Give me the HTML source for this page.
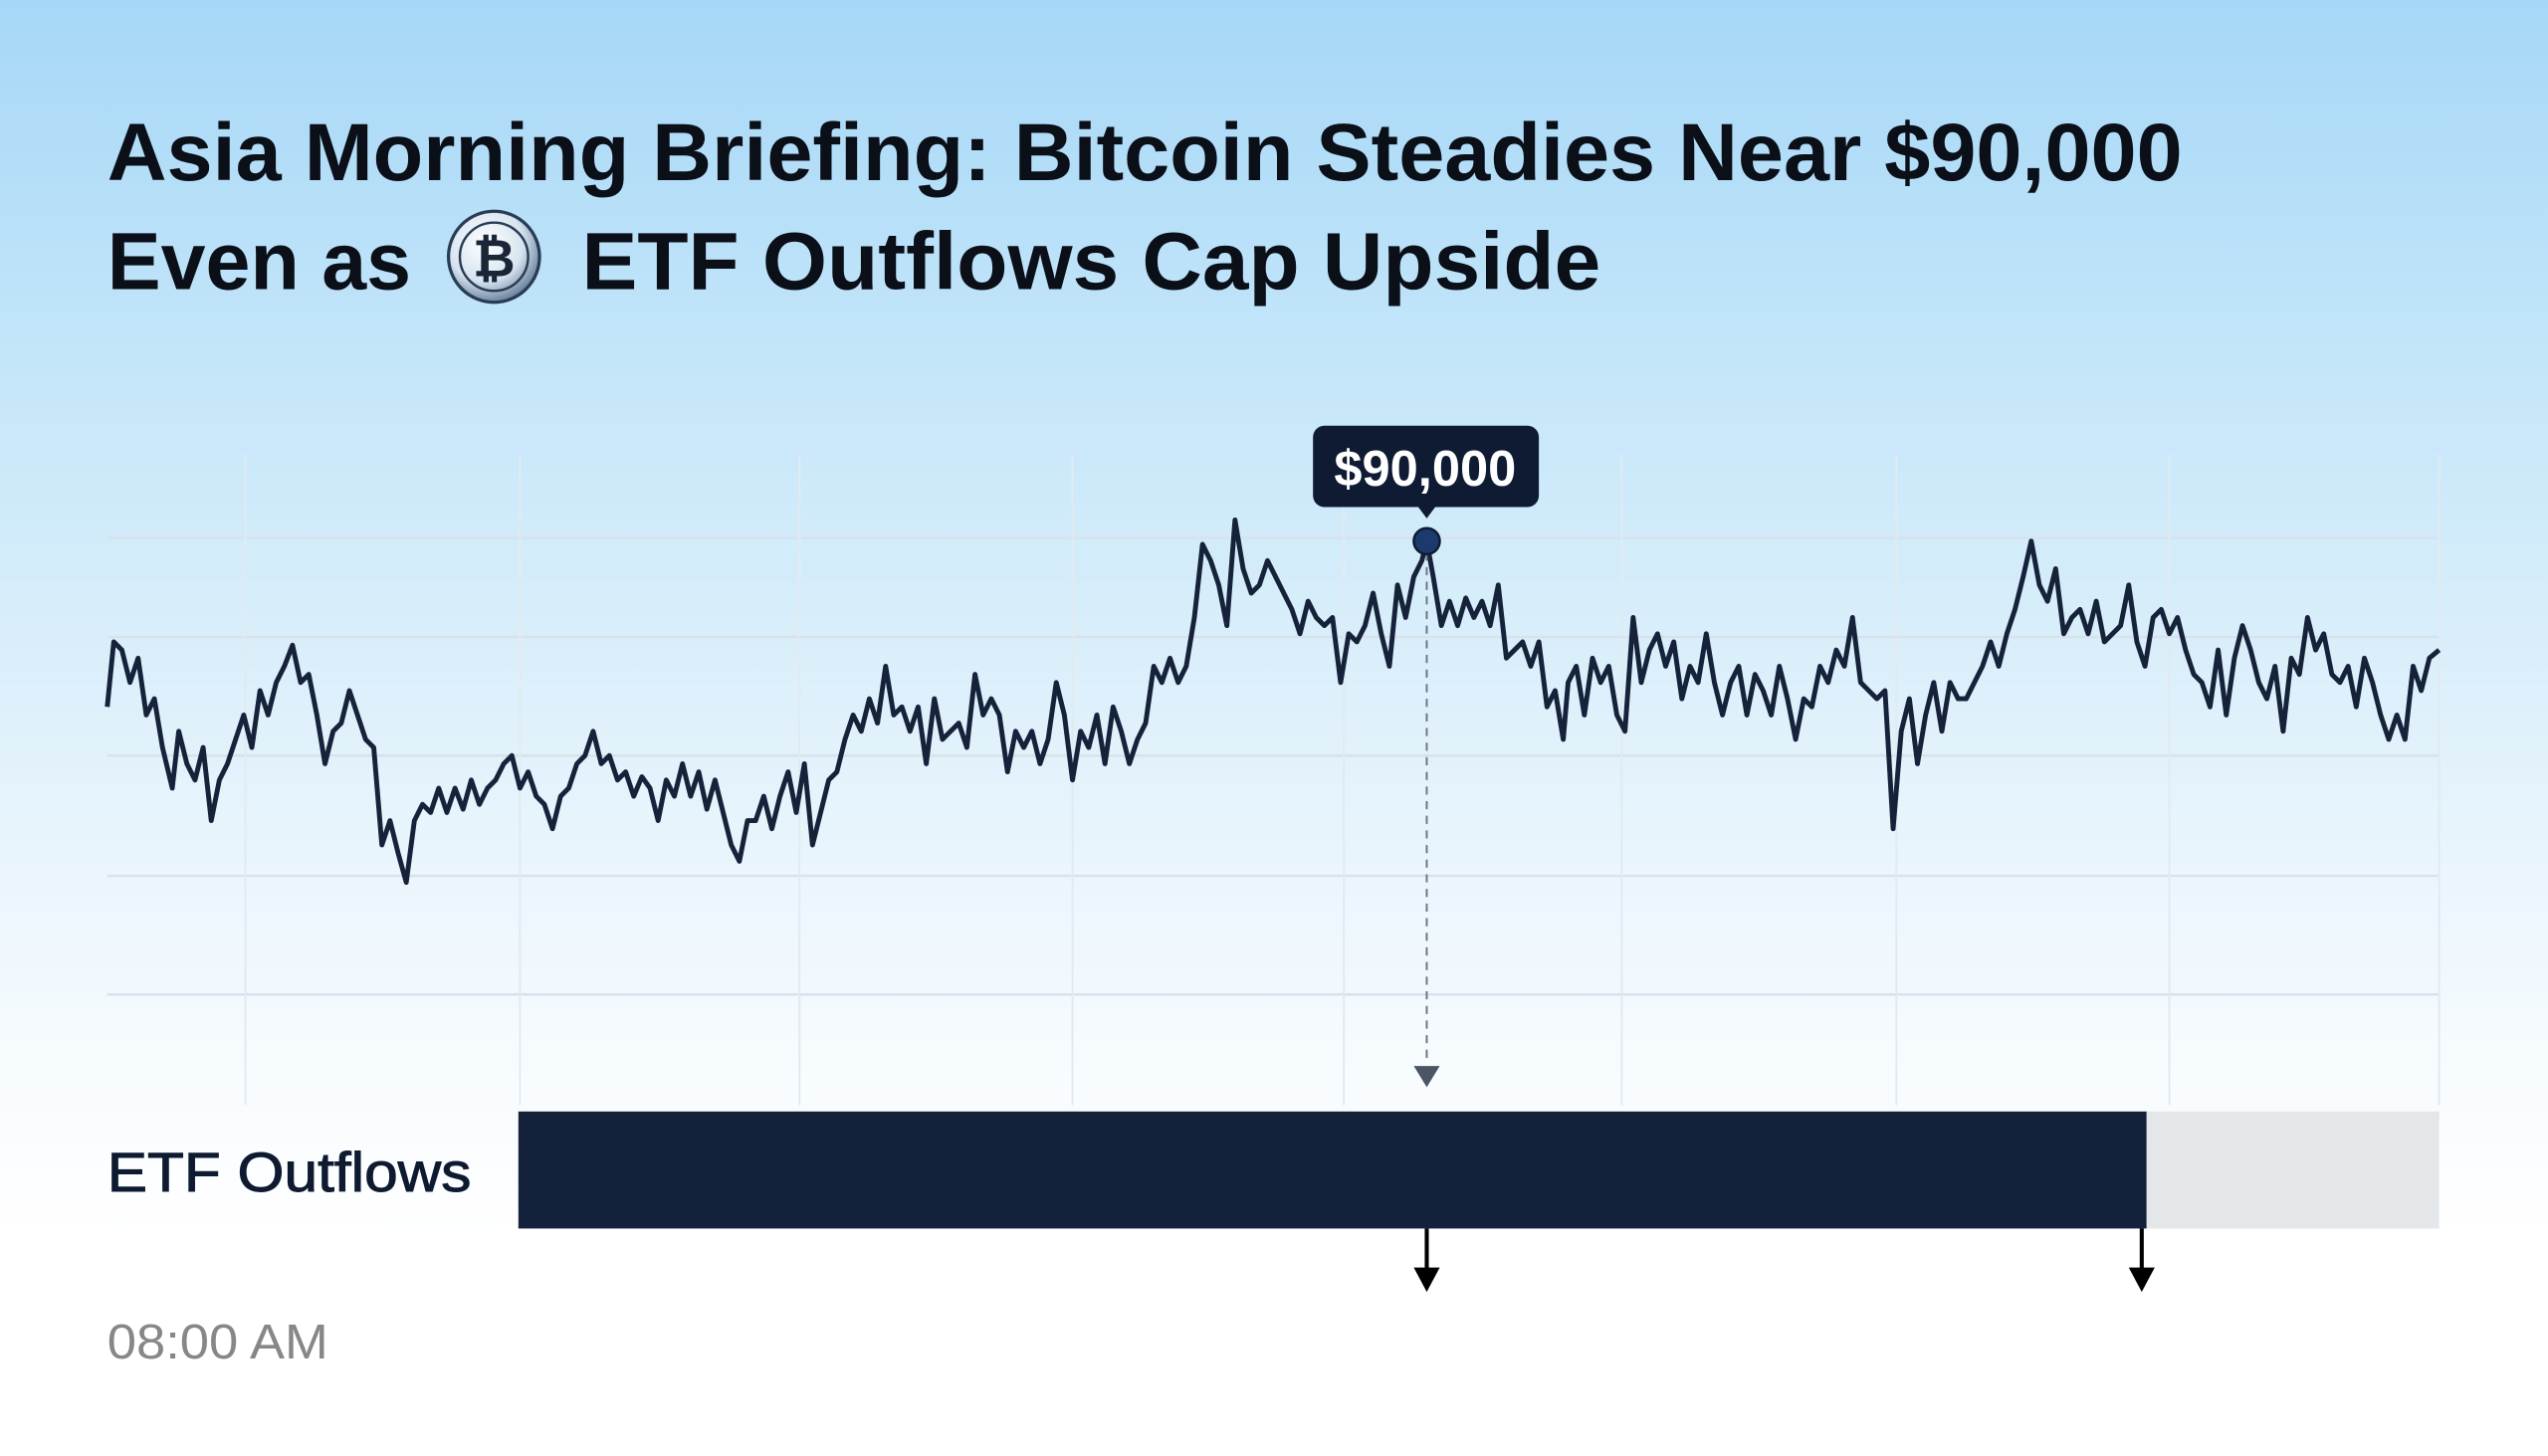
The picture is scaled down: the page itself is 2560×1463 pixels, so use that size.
<!DOCTYPE html>
<html><head><meta charset="utf-8"><style>
html,body{margin:0;padding:0;width:2560px;height:1463px;overflow:hidden;background:#fff}
svg{display:block}
</style></head><body>
<svg width="2560" height="1463" viewBox="0 0 1568 896" preserveAspectRatio="none" xmlns="http://www.w3.org/2000/svg">
<defs>
<linearGradient id="bg" x1="0" y1="0" x2="0" y2="1">
<stop offset="0" stop-color="#a6d7f8"/>
<stop offset="0.25" stop-color="#c4e6f9"/>
<stop offset="0.5" stop-color="#e0f1fb"/>
<stop offset="0.72" stop-color="#f6fbfe"/>
<stop offset="0.85" stop-color="#ffffff"/>
</linearGradient>
<radialGradient id="coin" cx="0.4" cy="0.35" r="0.7">
<stop offset="0" stop-color="#ffffff"/>
<stop offset="0.6" stop-color="#d6e4f0"/>
<stop offset="1" stop-color="#5a7390"/>
</radialGradient>
</defs>
<rect width="1568" height="896" fill="url(#bg)"/>
<g font-family="Liberation Sans, Arial, sans-serif" font-weight="bold" fill="#0b0f18">
<text x="66" y="111" font-size="50" textLength="1277" lengthAdjust="spacingAndGlyphs">Asia Morning Briefing: Bitcoin Steadies Near $90,000</text>
<text x="66" y="178" font-size="50" textLength="187" lengthAdjust="spacingAndGlyphs">Even as</text>
<text x="358" y="178" font-size="50" textLength="627" lengthAdjust="spacingAndGlyphs">ETF Outflows Cap Upside</text>
</g>
<circle cx="304" cy="158" r="28" fill="url(#coin)" stroke="#2a3c55" stroke-width="2"/>
<circle cx="304" cy="158" r="21" fill="none" stroke="#2a3c55" stroke-width="1.5"/>
<text x="304" y="170" font-family="Liberation Sans, sans-serif" font-weight="bold" font-size="32" fill="#1a2536" text-anchor="middle">₿</text>
<g stroke="#d7e2ea" stroke-width="1.5">
<line x1="66" y1="331" x2="1501" y2="331"/>
<line x1="66" y1="392" x2="1501" y2="392"/>
<line x1="66" y1="465" x2="1501" y2="465"/>
<line x1="66" y1="539" x2="1501" y2="539"/>
<line x1="66" y1="612" x2="1501" y2="612"/>
</g>
<g stroke="#e2eaf0" stroke-width="1.2">
<line x1="151" y1="280" x2="151" y2="680"/>
<line x1="320" y1="280" x2="320" y2="680"/>
<line x1="492" y1="280" x2="492" y2="680"/>
<line x1="660" y1="280" x2="660" y2="680"/>
<line x1="827" y1="280" x2="827" y2="680"/>
<line x1="998" y1="280" x2="998" y2="680"/>
<line x1="1167" y1="280" x2="1167" y2="680"/>
<line x1="1335" y1="280" x2="1335" y2="680"/>
<line x1="1501" y1="280" x2="1501" y2="680"/>
</g>
<polyline fill="none" stroke="#15223a" stroke-width="3" stroke-linejoin="round" points="66,435 70,395 75,400 80,420 85,405 90,440 95,430 100,460 106,485 110,450 115,470 120,480 125,460 130,505 135,480 140,470 145,455 150,440 155,460 160,425 165,440 170,420 175,410 180,397 185,420 190,415 195,440 200,470 205,450 210,445 215,425 220,440 225,455 230,460 235,520 240,505 245,525 250,543 255,505 260,495 265,500 270,485 275,500 280,485 285,498 290,480 295,495 300,485 305,480 310,470 315,465 320,485 325,475 330,490 335,495 340,510 345,490 350,485 355,470 360,465 365,450 370,470 375,465 380,480 385,475 390,490 395,478 400,485 405,505 410,480 415,490 420,470 425,490 430,475 435,498 440,480 445,500 450,520 455,530 460,505 465,505 470,490 475,510 480,490 485,475 490,500 495,470 500,520 505,500 510,480 515,475 520,455 525,440 530,450 535,430 540,445 545,410 550,440 555,435 560,450 565,435 570,470 575,430 580,455 585,450 590,445 595,460 600,415 605,440 610,430 615,440 620,475 625,450 630,460 635,450 640,470 645,455 650,420 655,440 660,480 665,450 670,460 675,440 680,470 685,435 690,450 695,470 700,455 705,445 710,410 715,420 720,405 725,420 730,410 735,380 740,335 745,345 750,360 755,385 760,320 765,350 770,365 775,360 780,345 785,355 790,365 795,375 800,390 805,370 810,380 815,385 820,380 825,420 830,390 835,395 840,385 845,365 850,390 855,410 860,360 865,380 870,355 875,345 878,333 882,355 887,385 892,370 897,385 902,368 907,380 912,370 917,385 922,360 927,405 932,400 937,395 942,410 947,395 952,435 957,425 962,455 965,420 970,410 975,440 980,405 985,420 990,410 995,440 1000,450 1005,380 1010,420 1015,400 1020,390 1025,410 1030,395 1035,430 1040,410 1045,420 1050,390 1055,420 1060,440 1065,420 1070,410 1075,440 1080,415 1085,425 1090,440 1095,410 1100,430 1105,455 1110,430 1115,435 1120,410 1125,420 1130,400 1135,410 1140,380 1145,420 1150,425 1155,430 1160,425 1165,510 1170,450 1175,430 1180,470 1185,440 1190,420 1195,450 1200,420 1205,430 1210,430 1215,420 1220,410 1225,395 1230,410 1235,390 1240,375 1245,355 1250,333 1255,360 1260,370 1265,350 1270,390 1275,380 1280,375 1285,390 1290,370 1295,395 1300,390 1305,385 1310,360 1315,395 1320,410 1325,380 1330,375 1335,390 1340,380 1345,400 1350,415 1355,420 1360,435 1365,400 1370,440 1375,405 1380,385 1385,400 1390,420 1395,430 1400,410 1405,450 1410,405 1415,415 1420,380 1425,400 1430,390 1435,415 1440,420 1445,410 1450,435 1455,405 1460,420 1465,440 1470,455 1475,440 1480,455 1485,410 1490,425 1495,405 1501,400"/>
<line x1="878" y1="340" x2="878" y2="652" stroke="#6b7685" stroke-width="1.2" stroke-dasharray="5,4"/>
<polygon points="870,656 886,656 878,669" fill="#4a5566"/>
<rect x="808" y="262" width="139" height="50" rx="7" fill="#0f1b33"/>
<polygon points="872,311 884,311 878,319" fill="#0f1b33"/>
<text x="877" y="299" font-family="Liberation Sans, sans-serif" font-weight="bold" font-size="31" fill="#fff" text-anchor="middle">$90,000</text>
<circle cx="878" cy="333" r="8" fill="#1b3a6d" stroke="#0f1b33" stroke-width="1.5"/>
<rect x="319" y="684" width="1002" height="72" fill="#13213b"/>
<rect x="1321" y="684" width="180" height="72" fill="#e3e7ea"/>
<text x="66" y="733" font-family="Liberation Sans, sans-serif" font-size="34" fill="#0e1a30" stroke="#0e1a30" stroke-width="0.6" textLength="224" lengthAdjust="spacingAndGlyphs">ETF Outflows</text>
<g stroke="#000" stroke-width="2.5"><line x1="878" y1="756" x2="878" y2="785"/><line x1="1318" y1="756" x2="1318" y2="785"/></g>
<polygon points="870,780 886,780 878,795" fill="#000"/>
<polygon points="1310,780 1326,780 1318,795" fill="#000"/>
<text x="66" y="836" font-family="Liberation Sans, sans-serif" font-size="30" fill="#878787" textLength="136" lengthAdjust="spacingAndGlyphs">08:00 AM</text>
</svg>
</body></html>
